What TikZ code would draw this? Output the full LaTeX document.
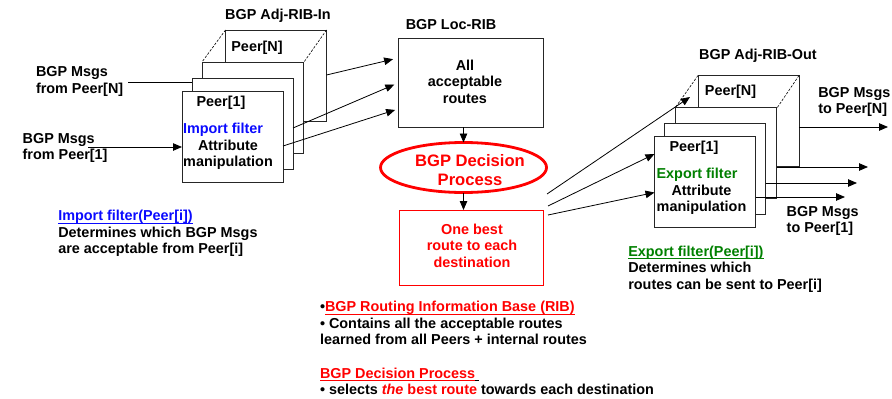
\documentclass[tikz,border=0pt]{standalone}
\usepackage{fontspec}
\setmainfont{Liberation Sans}
\usetikzlibrary{arrows.meta,shapes.geometric}
\definecolor{bgpred}{RGB}{255,0,0}
\definecolor{bgpblue}{RGB}{10,10,255}
\definecolor{bgpgreen}{RGB}{0,128,0}
\newcommand\myst{\rule{0pt}{11pt}}
\newcommand\mybst{\rule{0pt}{12.5pt}}
\newcommand\myul[1]{\setbox0\hbox{#1}\rlap{\rule[-2.8pt]{\wd0}{1pt}}\box0}
\begin{document}
\begin{tikzpicture}[x=1pt,y=-1pt,
  lbl/.style={inner sep=0pt, outer sep=0pt, font=\fontsize{14.4}{16.5}\selectfont\bfseries},
  biglbl/.style={inner sep=0pt, outer sep=0pt, font=\fontsize{16.6}{18.3}\selectfont\bfseries},
  box/.style={draw=black!85, line width=0.8pt, fill=white, minimum width=101pt, minimum height=91pt, inner sep=0pt, outer sep=0pt},
  arr/.style={-{Triangle[length=9pt,width=7.5pt]}, line width=0.8pt},
  ln/.style={line width=0.8pt},
  dsh/.style={line width=0.6pt, dash pattern=on 2.5pt off 1.5pt}]
\useasboundingbox (0,0) rectangle (892,399);

% ---------- left stack: Adj-RIB-In ----------
\node[box] (inN) at (276,75.5) {};
\draw[dsh] (inN.north west) -- (202,62) coordinate (in2nw);
\draw[dsh] (inN.north east) -- (304,62) coordinate (in2ne);
\node[box] (in2) at (253,107.5) {};
\node[box] (in3) at (242.5,123.5) {};
\node[box] (in1) at (232.5,136.5) {};

\node[lbl, anchor=north] (ribin) at (278,8.3) {\myst BGP Adj-RIB-In};
\node[lbl, anchor=north] (inNt) at (257,40) {\myst Peer[N]};
\node[lbl, anchor=north] (in1t) at (221,95.7) {\myst Peer[1]};
\node[lbl, anchor=north, text=bgpblue] (impf) at (223,122.3) {\myst Import filter};
\node[lbl, anchor=north, align=center] (inattr) at (228,139) {\myst Attribute\\manipulation};

\node[lbl, anchor=north west, align=left] (msgN) at (36,65.7) {\myst BGP Msgs\\from Peer[N]};
\node[lbl, anchor=north west, align=left] (msg1) at (22.7,132.3) {\myst BGP Msgs\\from Peer[1]};
\coordinate (msgNend) at (128,82);
\coordinate (msg1end) at (88,147);
\draw[ln] (msgNend) -- (in3.west |- 0,82);
\draw[arr] (msg1end) -- (in1.west |- 0,147);

\node[lbl, anchor=north west, align=left] (impdesc) at (58.3,209.7)
  {\myst{\color{bgpblue}\myul{Import filter(Peer[i])}}\\Determines which BGP Msgs\\are acceptable from Peer[i]};

% ---------- centre: Loc-RIB ----------
\node[draw=black!85, line width=0.8pt, minimum width=145pt, minimum height=89pt, inner sep=0pt, outer sep=0pt] (loc) at (470.5,82.5) {};
\node[lbl, anchor=north] (loclbl) at (451,18) {\myst BGP Loc-RIB};
\node[lbl, anchor=north, align=center] (loct) at (465,59) {\myst All\\acceptable\\routes};

\draw[arr, shorten >=5pt] (inN.east |- 0,75) -- (loc.west |- 0,58);
\draw[arr, shorten >=4pt] (in3.east |- 0,128) -- (loc.west |- 0,83);
\draw[arr, shorten >=3pt] (in1.east |- 0,146) -- (loc.west |- 0,109);

\node[ellipse, draw=bgpred, line width=2.8pt, minimum width=166pt, minimum height=50pt, inner sep=0pt, outer sep=0pt] (dec) at (463.5,167.5) {};
\node[biglbl, anchor=north, align=center, text=bgpred] (dect) at (470,154.2) {\mybst BGP Decision\\Process};

\node[draw=bgpred, line width=0.8pt, minimum width=144pt, minimum height=75pt, inner sep=0pt, outer sep=0pt] (best) at (471,247.5) {};
\node[lbl, anchor=north, align=center, text=bgpred] (bestt) at (472,223) {\myst One best\\route to each\\destination};

\draw[arr] (loc.south -| dec.north) -- (dec.north);
\draw[arr] (dec.south) -- (best.north -| dec.south);

% ---------- right stack: Adj-RIB-Out ----------
\node[box] (outN) at (748.5,121) {};
\draw[dsh] (outN.north west) -- (675,108) coordinate (out2nw);
\draw[dsh] (outN.north east) -- (777,108) coordinate (out2ne);
\node[box] (out2) at (726,153) {};
\node[box] (out3) at (715,168.5) {};
\node[box] (out1) at (705,181.5) {};

\node[lbl, anchor=north] (ribout) at (758,48.3) {\myst BGP Adj-RIB-Out};
\node[lbl, anchor=north] (outNt) at (730.5,84) {\myst Peer[N]};
\node[lbl, anchor=north] (out1t) at (694,140.7) {\myst Peer[1]};
\node[lbl, anchor=north, text=bgpgreen] (expf) at (697,167.3) {\myst Export filter};
\node[lbl, anchor=north, align=center, font=\fontsize{14.4}{16}\selectfont\bfseries] (outattr) at (701.5,184.5) {\myst Attribute\\manipulation};

\coordinate (s1) at (547,194);
\coordinate (s2) at (548,206);
\coordinate (s3) at (548,215);
\coordinate (t1) at (690,97);
\draw[arr] (s1) -- (t1);
\draw[arr] (s2) -- (out1.west |- 0,154);
\draw[arr] (s3) -- (out1.west |- 0,192.5);

\coordinate (e1) at (888,127);
\coordinate (e2) at (868,167);
\coordinate (e3) at (857,183);
\coordinate (e4) at (845,197);
\draw[arr] (outN.east |- 0,127) -- (e1);
\draw[arr] (out2.east |- 0,167) -- (e2);
\draw[arr] (out3.east |- 0,183) -- (e3);
\draw[arr] (out1.east |- 0,197) -- (e4);

\node[lbl, anchor=north west, align=left, font=\fontsize{14.4}{16}\selectfont\bfseries] (toN) at (818.3,86.3) {\myst BGP Msgs\\to Peer[N]};
\node[lbl, anchor=north west, align=left, font=\fontsize{14.4}{16}\selectfont\bfseries] (to1) at (786.7,205) {\myst BGP Msgs\\to Peer[1]};

\node[lbl, anchor=north west, align=left] (expdesc) at (628.3,245)
  {\myst{\color{bgpgreen}\myul{Export filter(Peer[i])}}\\Determines which\\routes can be sent to Peer[i]};

% ---------- bottom notes ----------
\node[lbl, anchor=north west, align=left] (ribnote) at (320,300.7)
  {\myst •{\color{bgpred}\myul{BGP Routing Information Base (RIB)}}\\• Contains all the acceptable routes\\learned from all Peers + internal routes};
\node[lbl, anchor=north west, align=left] (decnote) at (320,367.3)
  {\myst{\color{bgpred}\myul{BGP Decision Process}}\myul{\ }\\• selects {\color{bgpred}\textit{the} best route} towards each destination};
\end{tikzpicture}
\end{document}
